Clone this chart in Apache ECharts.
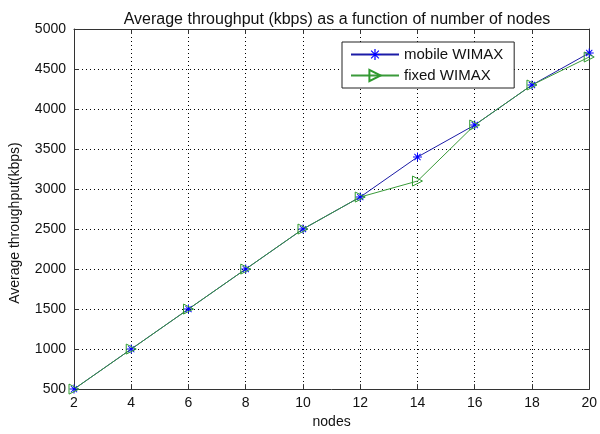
<!DOCTYPE html>
<html>
<head>
<meta charset="utf-8">
<script src="https://cdn.jsdelivr.net/npm/echarts@6/dist/echarts.min.js"></script>
<style>
html, body { margin: 0; padding: 0; background: #fff; }
#chart { width: 600px; height: 434px; }
</style>
</head>
<body>
<div id="chart"></div>
<script>
// data
var nodes = [2, 4, 6, 8, 10, 12, 14, 16, 18, 20];
var mobileWimax = [500, 1000, 1500, 2000, 2500, 2900, 3400, 3800, 4300, 4700];
var fixedWimax = [500, 1000, 1500, 2000, 2500, 2900, 3100, 3800, 4300, 4650];

function pairs(xs, ys) {
    return xs.map(function (x, i) { return [x, ys[i]]; });
}

var asterisk = 'path://M4.45,0 H5.55 V10 H4.45 Z M0,4.45 H10 V5.55 H0 Z ' +
    'M1.2,1.9 L1.9,1.2 L8.8,8.1 L8.1,8.8 Z M8.1,1.2 L8.8,1.9 L1.9,8.8 L1.2,8.1 Z';
var rightTri = 'path://M0,0 L10,5 L0,10 Z';

var font = 'Liberation Sans, Arial, sans-serif';
var txt = { color: '#111', fontFamily: font, fontSize: 14 };

var chart = echarts.init(document.getElementById('chart'), null, { renderer: 'canvas' });

var boxAxis = {
    axisLine: { show: true, lineStyle: { color: '#333', width: 1 } },
    axisTick: { show: true, inside: true, length: 5, lineStyle: { color: '#333' } },
    axisLabel: { show: false },
    splitLine: { show: false }
};

var option = {
    backgroundColor: '#fff',
    animation: false,
    title: {
        text: 'Average throughput (kbps) as a function of number of nodes',
        left: 332, top: 7, textAlign: 'center',
        textStyle: { color: '#111', fontFamily: font, fontSize: 16, fontWeight: 'normal' }
    },
    grid: { left: 72, right: 7, top: 29, bottom: 39 },
    legend: {
        orient: 'vertical',
        left: 342, top: 42,
        padding: [5, 11, 5, 8],
        itemGap: 6,
        itemWidth: 48, itemHeight: 14,
        backgroundColor: '#fff',
        borderColor: '#222', borderWidth: 1,
        textStyle: { color: '#111', fontFamily: font, fontSize: 15 },
        data: ['mobile WIMAX', 'fixed WIMAX']
    },
    xAxis: [{
        type: 'value', min: 2, max: 20, interval: 2,
        name: 'nodes', nameLocation: 'middle', nameGap: 24,
        nameTextStyle: txt,
        axisLine: { show: true, onZero: false, lineStyle: { color: '#333' } },
        axisTick: { show: true, inside: true, length: 5, lineStyle: { color: '#333' } },
        axisLabel: Object.assign({ margin: 7 }, txt),
        splitLine: { show: true, lineStyle: { color: '#000', type: [1, 3], width: 1 } }
    }, Object.assign({ type: 'value', position: 'top', min: 2, max: 20, interval: 2 }, boxAxis)],
    yAxis: [{
        type: 'value', min: 500, max: 5000, interval: 500,
        name: 'Average throughput(kbps)', nameLocation: 'middle', nameGap: 52,
        nameTextStyle: Object.assign({ padding: [0, 28, 0, 0] }, txt),
        axisLine: { show: true, onZero: false, lineStyle: { color: '#333' } },
        axisTick: { show: true, inside: true, length: 5, lineStyle: { color: '#333' } },
        axisLabel: Object.assign({ margin: 8, formatter: function (v) { return String(v); } }, txt),
        splitLine: { show: true, lineStyle: { color: '#000', type: [1, 3], width: 1 } }
    }, Object.assign({ type: 'value', position: 'right', min: 500, max: 5000, interval: 500 }, boxAxis)],
    series: [{
        name: 'mobile WIMAX',
        type: 'line',
        data: pairs(nodes, mobileWimax),
        symbol: asterisk, symbolSize: 9,
        itemStyle: { color: '#0000ff' },
        lineStyle: { color: '#1c1ca6', width: 1 }
    }, {
        name: 'fixed WIMAX',
        type: 'line',
        data: pairs(nodes, fixedWimax),
        symbol: rightTri, symbolSize: 10,
        itemStyle: { color: 'rgba(255,255,255,0)', borderColor: '#2f9a2f', borderWidth: 1 },
        lineStyle: { color: '#3a9a3a', width: 1 }
    }]
};

chart.setOption(option);
</script>
</body>
</html>
